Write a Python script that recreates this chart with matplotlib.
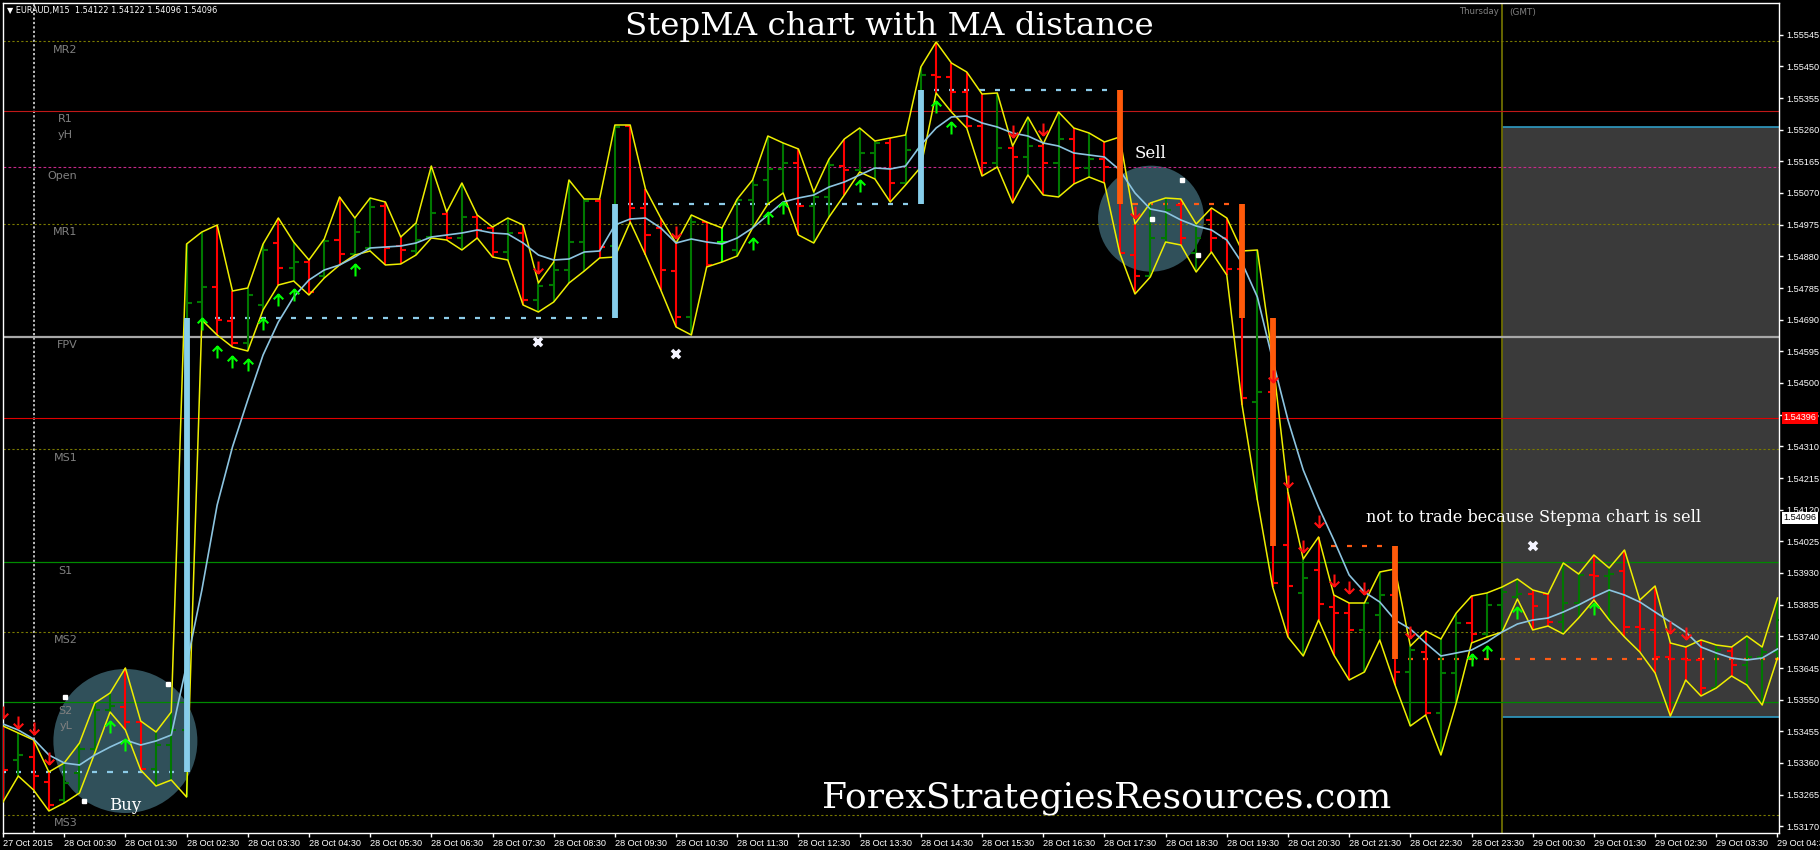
import numpy as np
import pandas as pd
import matplotlib
matplotlib.use('Agg')
import matplotlib.pyplot as plt
from matplotlib.path import Path
from matplotlib.patches import Ellipse, Rectangle

plt.rcParams['font.family'] = 'DejaVu Sans'
plt.rcParams['lines.scale_dashes'] = False

# M15 bars, first bar 27 Oct 2015 23:30
times = pd.date_range('2015-10-27 23:30', periods=117, freq='15min')

high = [1.53471, 1.53450, 1.53429, 1.53333, 1.53360, 1.53420, 1.53540, 1.53570, 1.53645, 1.53486,
        1.53453, 1.53513, 1.54917, 1.54953, 1.54974, 1.54776, 1.54785, 1.54917, 1.54995, 1.54923,
        1.54869, 1.54932, 1.55058, 1.54995, 1.55055, 1.55043, 1.54938, 1.54980, 1.55151, 1.55013,
        1.55100, 1.55004, 1.54968, 1.54995, 1.54974, 1.54800, 1.54863, 1.55109, 1.55052, 1.55052,
        1.55274, 1.55274, 1.55082, 1.54995, 1.54920, 1.55004, 1.54983, 1.54965, 1.55052, 1.55109,
        1.55241, 1.55220, 1.55202, 1.55073, 1.55172, 1.55232, 1.55265, 1.55226, 1.55235, 1.55244,
        1.55448, 1.55523, 1.55460, 1.55433, 1.55367, 1.55370, 1.55211, 1.55298, 1.55217, 1.55313,
        1.55265, 1.55250, 1.55223, 1.55238, 1.54977, 1.55040, 1.55055, 1.55052, 1.54977, 1.55025,
        1.54995, 1.54896, 1.54899, 1.54572, 1.54173, 1.53972, 1.54038, 1.53864, 1.53840, 1.53840,
        1.53933, 1.53942, 1.53711, 1.53756, 1.53732, 1.53810, 1.53861, 1.53870, 1.53888, 1.53912,
        1.53879, 1.53867, 1.53960, 1.53927, 1.53984, 1.53945, 1.53999, 1.53849, 1.53891, 1.53720,
        1.53708, 1.53729, 1.53714, 1.53708, 1.53741, 1.53708, 1.53855]
low = [1.53243, 1.53321, 1.53279, 1.53216, 1.53240, 1.53270, 1.53390, 1.53513, 1.53459, 1.53339,
       1.53291, 1.53309, 1.53258, 1.54689, 1.54644, 1.54608, 1.54596, 1.54719, 1.54794, 1.54806,
       1.54764, 1.54815, 1.54854, 1.54884, 1.54896, 1.54854, 1.54857, 1.54884, 1.54935, 1.54929,
       1.54899, 1.54935, 1.54878, 1.54869, 1.54734, 1.54713, 1.54743, 1.54800, 1.54836, 1.54875,
       1.54878, 1.54983, 1.54884, 1.54779, 1.54668, 1.54644, 1.54848, 1.54863, 1.54881, 1.54965,
       1.55037, 1.55070, 1.54944, 1.54920, 1.54998, 1.55064, 1.55133, 1.55112, 1.55043, 1.55094,
       1.55148, 1.55370, 1.55313, 1.55265, 1.55121, 1.55148, 1.55040, 1.55124, 1.55064, 1.55058,
       1.55097, 1.55118, 1.55100, 1.54890, 1.54767, 1.54818, 1.54923, 1.54914, 1.54833, 1.54893,
       1.54824, 1.54434, 1.54149, 1.53888, 1.53738, 1.53681, 1.53789, 1.53684, 1.53609, 1.53633,
       1.53729, 1.53594, 1.53471, 1.53504, 1.53384, 1.53540, 1.53720, 1.53738, 1.53753, 1.53852,
       1.53759, 1.53771, 1.53747, 1.53795, 1.53849, 1.53789, 1.53738, 1.53693, 1.53630, 1.53501,
       1.53609, 1.53561, 1.53585, 1.53621, 1.53594, 1.53534, 1.53675]
opn = [1.53429, 1.53369, 1.53378, 1.53303, 1.53249, 1.53330, 1.53402, 1.53519, 1.53528, 1.53483,
       1.53342, 1.53414, 1.53459, 1.54743, 1.54788, 1.54686, 1.54620, 1.54734, 1.54920, 1.54845,
       1.54863, 1.54821, 1.54929, 1.54887, 1.54905, 1.55031, 1.54911, 1.54896, 1.54938, 1.55007,
       1.54935, 1.54998, 1.54965, 1.54893, 1.54950, 1.54749, 1.54794, 1.54839, 1.54923, 1.55046,
       1.54911, 1.55271, 1.55025, 1.54965, 1.54836, 1.54698, 1.54983, 1.54923, 1.54899, 1.55049,
       1.55109, 1.55142, 1.55160, 1.55031, 1.55058, 1.55151, 1.55139, 1.55190, 1.55220, 1.55100,
       1.55199, 1.55424, 1.55418, 1.55373, 1.55271, 1.55160, 1.55205, 1.55178, 1.55211, 1.55160,
       1.55232, 1.55145, 1.55172, 1.55148, 1.54884, 1.54821, 1.54935, 1.55034, 1.54890, 1.54989,
       1.54935, 1.54842, 1.54443, 1.54473, 1.54014, 1.53870, 1.53939, 1.53828, 1.53810, 1.53759,
       1.53804, 1.53864, 1.53633, 1.53693, 1.53510, 1.53630, 1.53780, 1.53747, 1.53834, 1.53858,
       1.53867, 1.53867, 1.53783, 1.53840, 1.53924, 1.53921, 1.53936, 1.53768, 1.53759, 1.53678,
       1.53672, 1.53669, 1.53585, 1.53696, 1.53654, 1.53678, 1.53693]
close = [1.53339, 1.53384, 1.53321, 1.53234, 1.53300, 1.53402, 1.53519, 1.53531, 1.53483, 1.53342,
         1.53414, 1.53459, 1.54740, 1.54788, 1.54689, 1.54620, 1.54764, 1.54899, 1.54845, 1.54863,
         1.54773, 1.54926, 1.54887, 1.54953, 1.55028, 1.54905, 1.54899, 1.54929, 1.55010, 1.54935,
         1.54998, 1.54959, 1.54893, 1.54950, 1.54749, 1.54791, 1.54839, 1.54923, 1.55046, 1.54908,
         1.55268, 1.55025, 1.54944, 1.54839, 1.54698, 1.54983, 1.54854, 1.54923, 1.55049, 1.55094,
         1.55142, 1.55160, 1.55031, 1.55058, 1.55154, 1.55139, 1.55190, 1.55220, 1.55100, 1.55199,
         1.55424, 1.55418, 1.55373, 1.55271, 1.55160, 1.55205, 1.55178, 1.55211, 1.55160, 1.55232,
         1.55145, 1.55172, 1.55148, 1.54890, 1.54821, 1.54935, 1.55019, 1.54935, 1.54935, 1.54935,
         1.54842, 1.54455, 1.54473, 1.53900, 1.53891, 1.53915, 1.53837, 1.53810, 1.53759, 1.53840,
         1.53864, 1.53633, 1.53699, 1.53510, 1.53630, 1.53780, 1.53747, 1.53834, 1.53873, 1.53867,
         1.53831, 1.53783, 1.53840, 1.53924, 1.53921, 1.53927, 1.53768, 1.53762, 1.53678, 1.53672,
         1.53669, 1.53585, 1.53699, 1.53654, 1.53678, 1.53693, 1.53789]
ma = [1.53477, 1.53459, 1.53432, 1.53384, 1.53360, 1.53354, 1.53384, 1.53408, 1.53429, 1.53414,
      1.53426, 1.53444, 1.53654, 1.53879, 1.54134, 1.54308, 1.54449, 1.54584, 1.54683, 1.54758,
      1.54809, 1.54839, 1.54854, 1.54878, 1.54905, 1.54908, 1.54911, 1.54920, 1.54938, 1.54944,
      1.54950, 1.54959, 1.54950, 1.54947, 1.54920, 1.54884, 1.54869, 1.54872, 1.54893, 1.54896,
      1.54974, 1.54992, 1.54995, 1.54965, 1.54920, 1.54932, 1.54923, 1.54917, 1.54935, 1.54965,
      1.55004, 1.55043, 1.55055, 1.55064, 1.55088, 1.55103, 1.55124, 1.55145, 1.55142, 1.55151,
      1.55214, 1.55265, 1.55298, 1.55301, 1.55280, 1.55268, 1.55250, 1.55241, 1.55220, 1.55211,
      1.55190, 1.55184, 1.55178, 1.55139, 1.55070, 1.55022, 1.55013, 1.54989, 1.54971, 1.54959,
      1.54929, 1.54860, 1.54758, 1.54569, 1.54389, 1.54239, 1.54128, 1.54029, 1.53924, 1.53873,
      1.53843, 1.53789, 1.53762, 1.53720, 1.53681, 1.53690, 1.53699, 1.53723, 1.53753, 1.53777,
      1.53789, 1.53795, 1.53813, 1.53834, 1.53858, 1.53879, 1.53864, 1.53843, 1.53813, 1.53783,
      1.53753, 1.53708, 1.53690, 1.53675, 1.53669, 1.53675, 1.53702]

# pivot levels
pivot_names = ['MR2', 'R1', 'Open', 'MR1', 'FPV', 'MS1', 'S1', 'MS2', 'S2', 'MS3']
pivot_levels = [1.55525, 1.55316, 1.55147, 1.54977, 1.54639, 1.54301, 1.53962, 1.53753, 1.53542, 1.53205]
red_level = 1.54396
y_high, y_low = 1.55269, 1.53497
bid = 1.54096

# StepMA step changes
step_idx = [12, 40, 60, 73, 81, 83, 91]
step_from = [1.53333, 1.54695, 1.55037, 1.55379, 1.55037, 1.54695, 1.54011]
step_to = [1.54695, 1.55037, 1.55379, 1.55037, 1.54695, 1.54011, 1.53672]
lvl_price = [1.53333, 1.54695, 1.55037, 1.55379, 1.55037, 1.54011, 1.53672]
lvl_start = [0, 14, 41, 61, 74, 87, 92]
lvl_end = [11, 39, 59, 72, 80, 90, 116]
lvl_up = [True, True, True, True, False, False, False]

up_idx = [7, 8, 13, 14, 15, 16, 17, 18, 19, 23, 49, 50, 51, 56, 61, 62, 96, 97, 99, 104]
up_price = [1.53468, 1.53414, 1.54677, 1.54593, 1.54563, 1.54554, 1.54677, 1.54749, 1.54764, 1.54839,
            1.54917, 1.54995, 1.55025, 1.55091, 1.55328, 1.55265, 1.53669, 1.53693, 1.53810, 1.53822]
dn_idx = [0, 1, 2, 3, 35, 44, 66, 68, 74, 83, 84, 85, 86, 87, 88, 89, 92, 109, 110]
dn_price = [1.53513, 1.53483, 1.53465, 1.53375, 1.54848, 1.54953, 1.55256, 1.55262, 1.55013, 1.54521,
            1.54206, 1.54011, 1.54086, 1.53909, 1.53888, 1.53885, 1.53753, 1.53768, 1.53750]
cross_idx = [35, 44, 100]
cross_price = [1.54624, 1.54587, 1.54012]
dot_idx = [4.05, 10.8, 5.27, 77.1, 75.1, 78.1]
dot_price = [1.53557, 1.53598, 1.53247, 1.55109, 1.54991, 1.54884]

# highlighted zones (centre bar, centre price)
buy_zone = (8.0, 1.53426)
sell_zone = (75.05, 1.54993)

price_ticks = [1.55545 - k * 0.00095 for k in range(26)]

x = np.arange(len(high))
high, low, opn, close, ma = map(np.array, (high, low, opn, close, ma))

W, H = 1820, 850
fig = plt.figure(figsize=(W / 100, H / 100), dpi=100, facecolor='black')
ax = fig.add_axes([3 / W, 17 / H, 1776 / W, 830 / H])
ax.set_facecolor('black')
ax.set_xlim(0, 116.1)
ax.set_ylim(1.53150, 1.55640)
xpx = 116.1 / 1776
ypx = (1.55640 - 1.53150) / 830

# Thursday session box
ax.add_patch(Rectangle((98, y_low), 116.1 - 98, y_high - y_low, fc='#3a3a3a', ec='none', zorder=0.2))
ax.hlines([y_high, y_low], 98, 116.1, color='#2f9cc4', lw=1.2, zorder=0.3)
ax.axvline(98, color='#6e6e00', lw=1.3, zorder=0.4)
ax.axvline(2, color='#bdbdbd', lw=1.4, dashes=(1.6, 1.6), zorder=0.4)

# circles
for (cx, cy), r in ((buy_zone, 72), (sell_zone, 53)):
    ax.add_patch(Ellipse((cx, cy), 2 * r * xpx, 2 * r * ypx, fc='#30505a', ec='none', zorder=1))

# pivots
for name, lv in zip(pivot_names, pivot_levels):
    if name.startswith('M'):
        ax.axhline(lv, color='#7a7a00', lw=0.8, dashes=(1.6, 1.6), zorder=1.5)
    elif name == 'Open':
        ax.axhline(lv, color='#c8288a', lw=0.8, dashes=(2.0, 1.6), zorder=1.5)
    elif name == 'R1':
        ax.axhline(lv, color='#c01818', lw=0.8, zorder=1.5)
    elif name == 'FPV':
        ax.axhline(lv, color='#a8a8a8', lw=1.6, zorder=1.5)
    else:
        ax.axhline(lv, color='#008a00', lw=0.9, zorder=1.5)
    ha_x = 72 if len(name) == 2 else 77
    ax.annotate(name, ((ha_x - 2.4) * xpx, lv), xytext=(0, -2.5), textcoords='offset points',
                ha='right', va='top', color='#808080', fontsize=8, zorder=2)
ax.axhline(red_level, color='#e00000', lw=0.8, zorder=1.5)
for name, lv in (('yH', y_high), ('yL', y_low)):
    ax.annotate(name, ((72 - 2.4) * xpx, lv), xytext=(0, -2.5), textcoords='offset points',
                ha='right', va='top', color='#808080', fontsize=8, zorder=2)

# step level dashes, one per bar
for lv, s, e, up in zip(lvl_price, lvl_start, lvl_end, lvl_up):
    js = np.arange(s, e + 1)
    ax.hlines(np.full(len(js), lv), js - 0.17, js + 0.17,
              color='#8ccbe8' if up else '#ff5a14', lw=1.6, zorder=3)

# OHLC bars
col = np.where(close == opn, '#00ff00', np.where(close > opn, '#007800', '#ff0000'))
ax.vlines(x, low, high, colors=col, lw=1.5, zorder=4)
ax.hlines(opn, x - 0.33, x, colors=col, lw=1.5, zorder=4)
ax.hlines(close, x, x + 0.33, colors=col, lw=1.5, zorder=4)

# MA distance envelope and MA
ax.plot(x, high, color='#eeee00', lw=1.1, zorder=5)
ax.plot(x, low, color='#eeee00', lw=1.1, zorder=5)
ax.plot(x, ma, color='#8cc4e0', lw=1.2, zorder=6)

# step bars
for j, a, b in zip(step_idx, step_from, step_to):
    ax.vlines(j, a, b, color='#87ceeb' if b > a else '#ff5a0a', lw=4.2, zorder=6.5)

codes = [Path.MOVETO, Path.LINETO, Path.MOVETO, Path.LINETO, Path.LINETO]
up_mk = Path([(0, -1), (0, 1), (-0.8, 0.2), (0, 1), (0.8, 0.2)], codes)
dn_mk = Path([(0, 1), (0, -1), (-0.8, -0.2), (0, -1), (0.8, -0.2)], codes)
ax.plot(up_idx, up_price, ls='none', marker=up_mk, ms=8.6, mew=1.5, mec='#00ff00', mfc='none', zorder=7)
ax.plot(dn_idx, dn_price, ls='none', marker=dn_mk, ms=8.6, mew=1.5, mec='#ff1010', mfc='none', zorder=7)
ax.plot(cross_idx, cross_price, ls='none', marker='x', ms=6, mew=2.6, color='#f4f4ff', zorder=7)
ax.plot(dot_idx, dot_price, ls='none', marker='s', ms=2.2, color='white', zorder=7)

# axes
for sp in ax.spines.values():
    sp.set_color('white')
    sp.set_linewidth(1)
ax.yaxis.tick_right()
ax.set_yticks(price_ticks)
ax.set_yticklabels(['%.5f' % p for p in price_ticks], family='Liberation Sans', fontsize=6.6)
ax.tick_params(axis='y', colors='white', length=3, width=1, pad=2)
xt = x[::4]
labels = ['27 Oct 2015'] + [t.strftime('%d %b %H:%M') for t in times[xt[1:]]]
ax.set_xticks(xt)
ax.set_xticklabels(labels, family='Liberation Sans', fontsize=6.6)
ax.tick_params(axis='x', colors='white', length=3, width=1, pad=1.5)
for t in ax.get_xticklabels():
    t.set_ha('left')

# price boxes on the scale
ax.annotate('%.5f' % red_level, (1, red_level), xycoords=('axes fraction', 'data'), xytext=(3, 0),
            textcoords='offset points', va='center', ha='left', fontsize=6.6, family='Liberation Sans',
            color='white', bbox=dict(fc='#ff0000', ec='none', pad=1.2), annotation_clip=False, zorder=10)
ax.annotate('%.5f' % bid, (1, bid), xycoords=('axes fraction', 'data'), xytext=(3, 0),
            textcoords='offset points', va='center', ha='left', fontsize=6.6, family='Liberation Sans',
            color='black', bbox=dict(fc='white', ec='none', pad=1.2), annotation_clip=False, zorder=10)


def fx(px_x, px_y):
    return px_x / W, 1 - px_y / H


serif = 'DejaVu Serif'
fig.text(*fx(889, 26), 'StepMA chart with MA distance', family=serif, fontsize=23.4,
         color='white', ha='center', va='center')
fig.text(*fx(1107, 798), 'ForexStrategiesResources.com', family=serif, fontsize=26,
         color='white', ha='center', va='center')
fig.text(*fx(1151, 154), 'Sell', family=serif, fontsize=12, color='white', ha='center', va='center')
fig.text(*fx(125, 806), 'Buy', family=serif, fontsize=12, color='white', ha='center', va='center')
fig.text(*fx(1534, 518), 'not to trade because Stepma chart is sell', family=serif, fontsize=11.5,
         color='white', ha='center', va='center')
fig.text(*fx(7, 11), '\u25bc EURAUD,M15  1.54122 1.54122 1.54096 1.54096', fontsize=5.9,
         color='white', ha='left', va='center')
fig.text(*fx(1499, 12), 'Thursday', fontsize=6.1, color='#808080', ha='right', va='center')
fig.text(*fx(1509, 12), '(GMT)', fontsize=6.4, color='#808080', ha='left', va='center')

fig.savefig('out.png', dpi=100, facecolor='black')
